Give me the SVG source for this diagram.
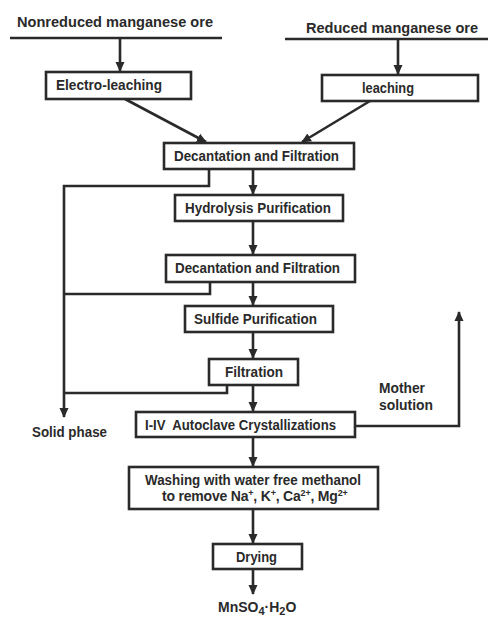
<svg xmlns="http://www.w3.org/2000/svg" width="488" height="618" viewBox="0 0 488 618">
<defs>
<marker id="ah" markerWidth="12" markerHeight="12" refX="9" refY="5.5" orient="auto" markerUnits="userSpaceOnUse">
<path d="M0,1 L10,5.5 L0,10 Z" fill="#2a2a2a"/>
</marker>
<style>
.b{fill:#fff;stroke:#2a2a2a;stroke-width:2.6}
.t{font-family:"Liberation Sans",Arial,sans-serif;font-weight:bold;font-size:14px;fill:#2a2a2a}
.c{text-anchor:middle}
.l{fill:none;stroke:#2a2a2a;stroke-width:2.6}
</style>
</defs>
<rect width="488" height="618" fill="#fff"/>
<g id="nonreduced">
<text class="t" x="17" y="27" font-size="15" textLength="196" lengthAdjust="spacingAndGlyphs">Nonreduced manganese ore</text>
<line class="l" x1="10" y1="38" x2="222" y2="38"/>
</g>
<g id="reduced">
<text class="t" x="306" y="33" font-size="15" textLength="172" lengthAdjust="spacingAndGlyphs">Reduced manganese ore</text>
<line class="l" x1="285" y1="39" x2="488" y2="39"/>
</g>
<g id="electro">
<rect class="b" x="46" y="72" width="145" height="27"/>
<text class="t" x="56" y="90" textLength="106" lengthAdjust="spacingAndGlyphs">Electro-leaching</text>
</g>
<g id="leaching">
<rect class="b" x="322" y="75" width="156" height="26"/>
<text class="t" x="362" y="93" textLength="52" lengthAdjust="spacingAndGlyphs">leaching</text>
</g>
<g id="dec1">
<rect class="b" x="164" y="143" width="190" height="26"/>
<text class="t" x="174" y="161" textLength="165" lengthAdjust="spacingAndGlyphs">Decantation and Filtration</text>
</g>
<g id="hydro">
<rect class="b" x="175" y="195" width="168" height="26"/>
<text class="t" x="185" y="213" textLength="146" lengthAdjust="spacingAndGlyphs">Hydrolysis Purification</text>
</g>
<g id="dec2">
<rect class="b" x="166" y="255" width="189" height="27"/>
<text class="t" x="175" y="273" textLength="165" lengthAdjust="spacingAndGlyphs">Decantation and Filtration</text>
</g>
<g id="sulfide">
<rect class="b" x="185" y="306" width="148" height="26"/>
<text class="t" x="194" y="324" textLength="123" lengthAdjust="spacingAndGlyphs">Sulfide Purification</text>
</g>
<g id="filtration">
<rect class="b" x="209" y="359" width="89" height="26"/>
<text class="t" x="225" y="377" textLength="58" lengthAdjust="spacingAndGlyphs">Filtration</text>
</g>
<g id="autoclave">
<rect class="b" x="136" y="412" width="219" height="25"/>
<text class="t" x="145" y="430" textLength="191" lengthAdjust="spacingAndGlyphs" xml:space="preserve">I-IV  Autoclave Crystallizations</text>
</g>
<g id="solid">
<text class="t" x="32" y="437" textLength="75" lengthAdjust="spacingAndGlyphs">Solid phase</text>
</g>
<g id="mother">
<text class="t" x="379" y="393" textLength="46" lengthAdjust="spacingAndGlyphs">Mother</text>
<text class="t" x="379" y="410" textLength="54" lengthAdjust="spacingAndGlyphs">solution</text>
</g>
<g id="washing">
<rect class="b" x="129" y="467" width="249" height="42"/>
<text class="t" x="145" y="485" textLength="216" lengthAdjust="spacingAndGlyphs">Washing with water free methanol</text>
<text class="t" x="162" y="501" font-size="13.5" letter-spacing="-0.2">to remove Na<tspan font-size="9" dy="-5">+</tspan><tspan dy="5">, K</tspan><tspan font-size="9" dy="-5">+</tspan><tspan dy="5">, Ca</tspan><tspan font-size="9" dy="-5">2+</tspan><tspan dy="5">, Mg</tspan><tspan font-size="9" dy="-5">2+</tspan></text>
</g>
<g id="drying">
<rect class="b" x="213" y="544" width="89" height="25"/>
<text class="t" x="236" y="562" textLength="41" lengthAdjust="spacingAndGlyphs">Drying</text>
</g>
<g id="product">
<text class="t" x="218" y="612" font-size="17">MnSO<tspan font-size="11" dy="3">4</tspan><tspan dy="-3">·H</tspan><tspan font-size="11" dy="3">2</tspan><tspan dy="-3">O</tspan></text>
</g>
<g id="connectors">
<line class="l" x1="120" y1="38" x2="120" y2="71" marker-end="url(#ah)"/>
<line class="l" x1="398" y1="39" x2="398" y2="74" marker-end="url(#ah)"/>
<line class="l" x1="125" y1="99" x2="206" y2="142" marker-end="url(#ah)"/>
<line class="l" x1="370" y1="101" x2="302" y2="142" marker-end="url(#ah)"/>
<line class="l" x1="253" y1="169" x2="253" y2="194" marker-end="url(#ah)"/>
<line class="l" x1="253" y1="221" x2="253" y2="254" marker-end="url(#ah)"/>
<line class="l" x1="253" y1="282" x2="253" y2="305" marker-end="url(#ah)"/>
<line class="l" x1="253" y1="332" x2="253" y2="358" marker-end="url(#ah)"/>
<line class="l" x1="253" y1="385" x2="253" y2="411" marker-end="url(#ah)"/>
<line class="l" x1="253" y1="437" x2="253" y2="466" marker-end="url(#ah)"/>
<line class="l" x1="253" y1="509" x2="253" y2="543" marker-end="url(#ah)"/>
<line class="l" x1="253" y1="569" x2="253" y2="594" marker-end="url(#ah)"/>
<polyline class="l" points="209,169 209,186 64,186 64,417" marker-end="url(#ah)"/>
<polyline class="l" points="210,282 210,294 64,294"/>
<polyline class="l" points="227,385 227,393 64,393"/>
<polyline class="l" points="355,426 459,426 459,312" marker-end="url(#ah)"/>
</g>
</svg>
